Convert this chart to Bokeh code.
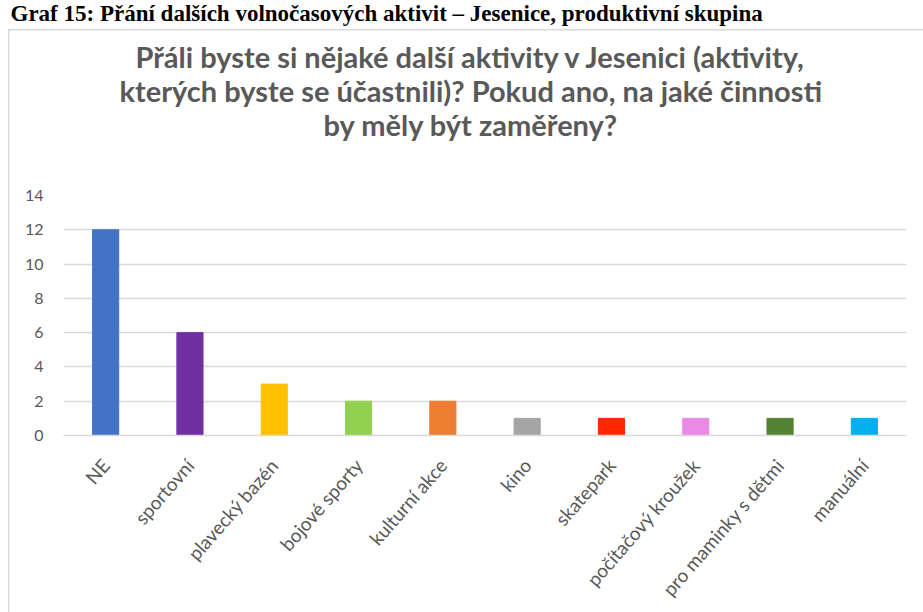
import math
from bokeh.plotting import figure
from bokeh.models import (Title, FactorRange, Range1d, FixedTicker,
                          ColumnDataSource)
from bokeh.embed import file_html
from bokeh.resources import INLINE

# ---- data -------------------------------------------------------------
categories = ["NE", "sportovní", "plavecký bazén", "bojové sporty",
              "kulturní akce", "kino", "skatepark", "počítačový kroužek",
              "pro maminky s dětmi", "manuální"]
counts = [12, 6, 3, 2, 2, 1, 1, 1, 1, 1]
bar_colors = ["#4472C4", "#7030A0", "#FFC000", "#92D050", "#ED7D31",
              "#A5A5A5", "#FF2600", "#E98BE6", "#548235", "#00B0F0"]
y_ticks = [0, 2, 4, 6, 8, 10, 12, 14]
title_lines = ["Přáli  byste si nějaké další aktivity v Jesenici (aktivity,",
               "kterých byste se účastnili)? Pokud ano, na jaké činnosti",
               "by měly být zaměřeny?"]
caption = "Graf 15: Přání dalších volnočasových aktivit – Jesenice, produktivní skupina"

# ---- layout -----------------------------------------------------------
W, H = 923, 612
FL, FR, FB = 63, 17, 177

GRAY_TXT = "#595959"
GRID = "#d9d9d9"

src = ColumnDataSource(dict(cat=categories, val=counts, color=bar_colors))

p = figure(x_range=FactorRange(*categories), y_range=Range1d(0, 14),
           width=W, height=H, output_backend="svg", toolbar_location=None,
           min_border_left=FL, min_border_right=FR,
           min_border_top=0, min_border_bottom=FB)

# chart-area frame (left and top edge) painted behind a transparent canvas
p.border_fill_color = None
p.background_fill_color = None
p.styles = {
    "background-color": "white",
    "background-image": "linear-gradient(#d9d9d9, #d9d9d9), linear-gradient(#d9d9d9, #d9d9d9)",
    "background-size": "1.5px 100%, 100% 1.5px",
    "background-position": "8px 29px, 8px 29px",
    "background-repeat": "no-repeat",
}

p.vbar(x="cat", top="val", width=0.31, source=src,
       fill_color="color", line_color="color", line_width=1)

p.outline_line_color = None
p.xgrid.grid_line_color = None
p.ygrid.grid_line_color = GRID
p.ygrid.grid_line_width = 1.5
p.yaxis.ticker = FixedTicker(ticks=y_ticks)

p.yaxis.axis_line_color = None
p.yaxis.major_tick_line_color = None
p.yaxis.minor_tick_line_color = None
p.yaxis.major_tick_out = 0
p.yaxis.major_tick_in = 0
p.yaxis.major_label_standoff = 20
p.yaxis.major_label_text_font = "Lato"
p.yaxis.major_label_text_font_size = "16px"
p.yaxis.major_label_text_color = GRAY_TXT

p.xaxis.axis_line_color = GRID
p.xaxis.axis_line_width = 1.5
p.xaxis.major_tick_line_color = None
p.xaxis.minor_tick_line_color = None
p.xaxis.major_tick_out = 0
p.xaxis.major_tick_in = 0
p.xaxis.major_label_standoff = 26
p.xaxis.major_label_orientation = math.radians(49)
p.xaxis.major_label_text_font = "Lato"
p.xaxis.major_label_text_font_size = "19px"
p.xaxis.major_label_text_color = GRAY_TXT

# "above" panels are stacked from the plot outwards
# spacer between title and plot
p.add_layout(Title(text=" ", text_font="Lato", text_font_size="2px",
                   standoff=35), "above")
# chart title, one panel per line (line 3 first = nearest to plot)
title_offsets = [72, 56, 260]
title_standoffs = [23.8, -30.4, 23.8]
for line, off, so in reversed(list(zip(title_lines, title_offsets, title_standoffs))):
    p.add_layout(Title(text=line, align="left", vertical_align="top",
                       offset=off, text_font="Lato", text_font_style="bold",
                       text_font_size="29px", text_color=GRAY_TXT,
                       standoff=so), "above")
# document caption at the very top
p.add_layout(Title(text=caption, align="left", vertical_align="top",
                   offset=10 - FL, text_font="Liberation Serif",
                   text_font_style="bold", text_font_size="23px",
                   text_color="#000000", standoff=0), "above")

open("out.html", "w").write(file_html(p, INLINE))
